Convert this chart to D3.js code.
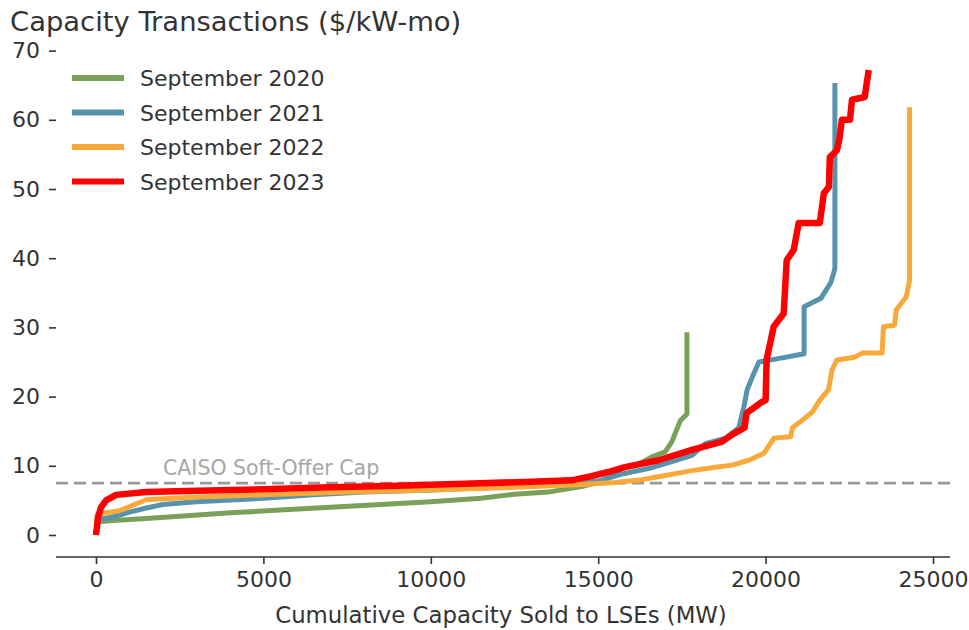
<!DOCTYPE html>
<html>
<head>
<meta charset="utf-8">
<script src="https://cdn.jsdelivr.net/npm/d3@7"></script>
<style>
	body { margin: 0; background: #fff; }
	svg { font-family: "DejaVu Sans", sans-serif; }
</style>
</head>
<body>
<svg id="chart" width="969" height="630"></svg>
<script>
// [MW cumulative, $/kW-mo]
var sept2020 = [[0,0.5],[60,1.9],[500,2.1],[1500,2.4],[2500,2.7],[4000,3.2],[5500,3.6],[7000,4.0],[8500,4.4],[10000,4.8],[11500,5.3],[12500,5.9],[13500,6.2],[14500,7.0],[15000,7.6],[15500,8.8],[15700,9.6],[16200,10.2],[16600,11.3],[17000,12.0],[17200,13.5],[17450,16.5],[17650,17.5],[17650,29.3]];
var sept2021 = [[0,0],[40,2.2],[500,2.6],[1000,3.3],[1500,3.9],[2000,4.4],[3000,4.8],[5000,5.3],[6500,5.8],[8000,6.2],[10000,6.5],[12000,6.9],[13500,7.2],[15000,7.8],[15700,8.8],[16500,9.6],[17200,10.6],[17800,11.5],[18200,13.2],[18800,14.0],[19200,15.5],[19350,18.5],[19450,21],[19600,22.8],[19800,25.0],[20500,25.6],[21150,26.2],[21150,33.0],[21650,34.2],[21950,36.5],[22070,38.5],[22070,65.3]];
var sept2022 = [[0,0],[40,3.0],[700,3.5],[1100,4.3],[1500,5.1],[3000,5.5],[5000,5.8],[7500,6.2],[10000,6.5],[12500,6.9],[14500,7.3],[15500,7.6],[16300,8.0],[17000,8.6],[17800,9.3],[18500,9.8],[19000,10.1],[19500,10.8],[19950,11.8],[20250,14.0],[20750,14.2],[20800,15.5],[21100,16.6],[21400,17.8],[21620,19.5],[21880,21.0],[21980,23.8],[22130,25.3],[22650,25.7],[22900,26.3],[23480,26.3],[23520,30.1],[23850,30.3],[23900,32.5],[24200,34.4],[24300,36.8],[24300,61.8]];
var sept2023 = [[0,0],[60,2.5],[150,4.0],[300,5.0],[600,5.8],[1500,6.2],[3000,6.4],[5000,6.6],[7000,6.9],[9000,7.1],[11000,7.4],[13000,7.7],[14200,7.9],[14800,8.5],[15300,9.1],[15800,9.8],[16800,10.8],[17800,12.3],[18700,13.5],[19000,14.5],[19370,15.5],[19430,17.6],[19880,19.2],[20000,19.5],[20030,25.3],[20240,30.1],[20540,32.0],[20630,39.7],[20840,41.2],[20990,45.1],[21620,45.1],[21740,49.4],[21890,50.3],[21920,54.6],[22130,55.6],[22200,57.1],[22280,60.0],[22520,60.0],[22580,62.9],[22960,63.3],[23080,67.2]];

var seriesNames = ["September 2020","September 2021","September 2022","September 2023"];
var xTicks = [0,5000,10000,15000,20000,25000];
var yTicks = [0,10,20,30,40,50,60,70];
var softOfferCap = 7.5;

var allSeries = [sept2020,sept2021,sept2022,sept2023];
var colours = ["#7aa15a","#5893ad","#f9a93a","#ff0000"];
var widths = [5,5,5,6.5];
var textCol = "#333";

var svg = d3.select("#chart");

var x = d3.scaleLinear().domain([0,25000]).range([96,933]);
var y = d3.scaleLinear().domain([0,70]).range([535,50.6]);
var axLeft = 56, axRight = 950, axBottom = 557;

svg.append("text")
	.attr("x",10)
	.attr("y",31)
	.attr("font-size",27.4)
	.attr("fill",textCol)
	.text("Capacity Transactions ($/kW-mo)");

// x axis, only the bottom spine is visible
var gx = svg.append("g")
	.attr("transform","translate(0,"+axBottom+")")
	.call(d3.axisBottom(x).tickValues(xTicks).tickFormat(d3.format("d")).tickSize(7).tickPadding(7));
gx.select(".domain").attr("d","M"+axLeft+",0H"+axRight).attr("stroke",textCol).attr("stroke-width",1.6);
gx.selectAll(".tick line").attr("stroke",textCol).attr("stroke-width",1.6);
gx.selectAll(".tick text").attr("font-size",22).attr("fill",textCol).attr("font-family","DejaVu Sans");

var gy = svg.append("g")
	.attr("transform","translate("+axLeft+",0)")
	.call(d3.axisLeft(y).tickValues(yTicks).tickSize(7).tickPadding(9));
gy.select(".domain").remove();
gy.selectAll(".tick line").attr("stroke",textCol).attr("stroke-width",1.6);
gy.selectAll(".tick text").attr("font-size",22).attr("fill",textCol).attr("font-family","DejaVu Sans");

svg.append("text")
	.attr("x",501)
	.attr("y",623)
	.attr("text-anchor","middle")
	.attr("font-size",22.8)
	.attr("fill",textCol)
	.text("Cumulative Capacity Sold to LSEs (MW)");

svg.append("line")
	.attr("x1",axLeft)
	.attr("x2",axRight)
	.attr("y1",y(softOfferCap))
	.attr("y2",y(softOfferCap))
	.attr("stroke","#999")
	.attr("stroke-width",2.8)
	.attr("stroke-dasharray","12,6");

svg.append("text")
	.attr("x",163)
	.attr("y",y(softOfferCap)-8)
	.attr("font-size",20.5)
	.attr("fill","#a6a6a6")
	.text("CAISO Soft-Offer Cap");

var line = d3.line()
	.x(function(d){ return x(d[0]); })
	.y(function(d){ return y(d[1]); });

allSeries.forEach(function(values,i){
	svg.append("path")
		.datum(values)
		.attr("fill","none")
		.attr("stroke",colours[i])
		.attr("stroke-width",widths[i])
		.attr("stroke-linejoin","round")
		.attr("stroke-linecap","butt")
		.attr("d",line);
});

var legend = svg.append("g").attr("class","legend");
seriesNames.forEach(function(name,i){
	var ly = 78 + 34.5*i;
	legend.append("line")
		.attr("x1",72).attr("x2",124)
		.attr("y1",ly).attr("y2",ly)
		.attr("stroke",colours[i])
		.attr("stroke-width",6);
	legend.append("text")
		.attr("x",140)
		.attr("y",ly+8)
		.attr("font-size",22)
		.attr("fill",textCol)
		.text(name);
});
</script>
</body>
</html>
